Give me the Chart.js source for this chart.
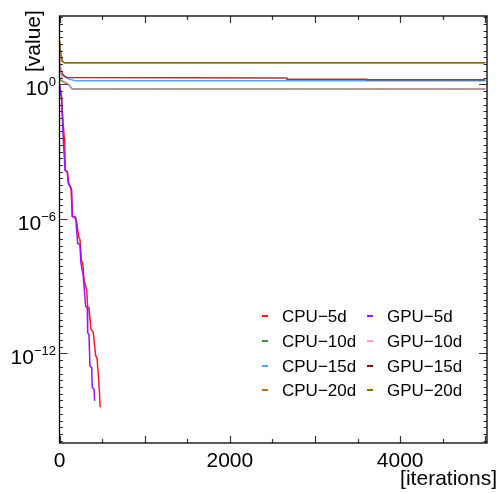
<!DOCTYPE html>
<html>
<head>
<meta charset="utf-8">
<script src="https://cdn.jsdelivr.net/npm/chart.js@4/dist/chart.umd.min.js"></script>
<style>
html,body{margin:0;padding:0;background:#fff;}
#wrap{width:500px;height:493px;position:relative;}
</style>
</head>
<body>
<div id="wrap"><canvas id="c" width="500" height="493"></canvas></div>
<script>
// ---- data (iterations, value) ----
const seriesNames = ["CPU\u22125d","CPU\u221210d","CPU\u221215d","CPU\u221220d","GPU\u22125d","GPU\u221210d","GPU\u221215d","GPU\u221220d"];

const iterCPU5 = [0, 26, 35, 56, 62, 68, 94, 106, 135, 152, 182, 201, 225, 240, 258, 272, 291, 319, 331, 346, 370, 396, 425, 440, 463, 471, 478];
const valCPU5  = [1.0, 2.5e-1, 5e-2, 4e-3, 2e-3, 1.5e-4, 1.2e-4, 4e-5, 2.4e-5, 1.3e-6, 1.1e-6, 7.4e-7, 1.6e-7, 1.2e-7, 1.3e-8, 1.1e-8, 1.6e-9, 6.9e-10, 1.1e-10, 1.1e-10, 1.2e-11, 8.9e-12, 7.6e-13, 6.5e-13, 5e-14, 1.3e-14, 3.9e-15];

const iterCPU10 = [0, 30, 65, 103, 150, 5000];
const valCPU10  = [1.6, 1.4, 1.2, 1.0, 0.62, 0.62];

const iterCPU15 = [0, 20, 100, 170, 200, 5000];
const valCPU15  = [3.4, 3.0, 1.8, 1.5, 1.46, 1.46];

const iterCPU20 = [0, 6, 18, 33, 57, 5000];
const valCPU20  = [90, 45, 20, 11, 9.2, 9.2];

const iterGPU5 = [0, 26, 33, 45, 65, 91, 103, 123, 143, 150, 190, 213, 240, 252, 279, 307, 326, 331, 346, 358, 378, 385, 405, 413];
const valGPU5  = [1.0, 1.9e-1, 3.5e-2, 3.2e-3, 1.5e-4, 1.26e-4, 3.9e-5, 2.75e-5, 1.95e-5, 1.26e-6, 1.2e-6, 8.3e-8, 6.9e-8, 1.07e-8, 2.75e-9, 1.26e-10, 1.07e-10, 8.3e-12, 6.9e-12, 2.75e-13, 2.3e-13, 3e-14, 2.5e-14, 7.6e-15];

const iterGPU10 = [0, 12, 18, 30, 65, 103, 143, 5000];
const valGPU10  = [26, 8.6, 3.5, 1.5, 1.26, 1.07, 0.64, 0.62];

const iterGPU15 = [0, 10, 45, 85, 2669, 2670, 3607, 3608, 5000];
const valGPU15  = [7.0, 5.1, 2.5, 2.0, 1.9, 1.7, 1.7, 1.6, 1.6];

const iterGPU20 = [0, 6, 18, 33, 57, 5000];
const valGPU20  = [90, 45, 20, 11, 9.2, 9.2];

// axis ticks
const xTickLabels = [0, 2000, 4000];
const xTickMarks = [0, 500, 1000, 1500, 2000, 2500, 3000, 3500, 4000, 4500, 5000];
const yMajorTicks = [1e0, 1e-6, 1e-12];
const yMajorExp = ["0", "\u22126", "\u221212"];

const seriesColors = ["#ff1a1a", "#2e962e", "#4aa6ff", "#cc6a10", "#9a10ff", "#ff99cc", "#8b0a0a", "#7d7500"];
const lineColors   = ["#ff1a1a", "#2e962e", "#4aa6ff", "#cc6a10", "#9a10ff", "rgba(235,140,180,0.85)", "rgba(150,20,20,0.85)", "rgba(115,110,0,0.9)"];

const iters = [iterCPU5, iterCPU10, iterCPU15, iterCPU20, iterGPU5, iterGPU10, iterGPU15, iterGPU20];
const vals  = [valCPU5, valCPU10, valCPU15, valCPU20, valGPU5, valGPU10, valGPU15, valGPU20];

const datasets = seriesNames.map((name, i) => ({
  label: name,
  data: iters[i].map((it, k) => ({x: it, y: vals[i][k]})),
  borderColor: lineColors[i],
  backgroundColor: seriesColors[i],
  borderWidth: 1.5,
  pointRadius: 0,
  tension: 0,
  fill: false,
  order: i < 4 ? 2 : 1
}));

const FONT = "'Liberation Sans', Arial, sans-serif";

const framePlugin = {
  id: 'framePlugin',
  afterDraw(chart) {
    const ctx = chart.ctx;
    const {left, right, top, bottom} = chart.chartArea;
    const xs = chart.scales.x, ys = chart.scales.y;
    ctx.save();
    // ticks
    ctx.strokeStyle = '#333';
    ctx.lineWidth = 1.2;
    ctx.beginPath();
    xTickMarks.forEach(t => {
      const px = Math.round(xs.getPixelForValue(t)) + 0.5;
      const len = (t % 1000 === 0) ? 7 : 4;
      ctx.moveTo(px, bottom); ctx.lineTo(px, bottom - len);
      ctx.moveTo(px, top); ctx.lineTo(px, top + len);
    });
    // minor y ticks every 0.3 decade
    for (let e = 3; e >= -16; e -= 0.3) {
      const v = Math.pow(10, e);
      const py = Math.round(ys.getPixelForValue(v)) + 0.5;
      if (py < top || py > bottom) continue;
      ctx.moveTo(left, py); ctx.lineTo(left + 3.5, py);
      ctx.moveTo(right, py); ctx.lineTo(right - 3.5, py);
    }
    yMajorTicks.forEach(v => {
      const py = Math.round(ys.getPixelForValue(v)) + 0.5;
      ctx.moveTo(left, py); ctx.lineTo(left + 8, py);
      ctx.moveTo(right, py); ctx.lineTo(right - 8, py);
    });
    ctx.stroke();
    // frame
    ctx.strokeStyle = '#000';
    ctx.lineWidth = 1.3;
    ctx.strokeRect(left, top, right - left, bottom - top);
    // y tick labels
    ctx.fillStyle = '#000';
    yMajorTicks.forEach((v, i) => {
      const py = ys.getPixelForValue(v);
      ctx.font = '13px ' + FONT;
      const ew = ctx.measureText(yMajorExp[i]).width;
      ctx.textAlign = 'right';
      ctx.textBaseline = 'alphabetic';
      ctx.fillText(yMajorExp[i], 56, py + 2);
      ctx.font = '21px ' + FONT;
      ctx.fillText('10', 56 - ew, py + 11);
    });
    // axis titles
    ctx.font = '21px ' + FONT;
    ctx.textAlign = 'right';
    ctx.textBaseline = 'alphabetic';
    ctx.fillText('[iterations]', 497, 485);
    ctx.save();
    ctx.translate(40, 72);
    ctx.rotate(-Math.PI / 2);
    ctx.textAlign = 'left';
    ctx.fillText('[value]', 0, 0);
    ctx.restore();
    // legend
    const colX = [262, 367];
    const textX = [282, 387];
    const rowY = [316, 341, 366, 390];
    ctx.font = '17px ' + FONT;
    ctx.textAlign = 'left';
    ctx.textBaseline = 'middle';
    chart.data.datasets.forEach((ds, i) => {
      const c = i < 4 ? 0 : 1, r = i % 4;
      ctx.strokeStyle = seriesColors[i];
      ctx.lineWidth = 2;
      ctx.beginPath();
      ctx.moveTo(colX[c], rowY[r]); ctx.lineTo(colX[c] + 6, rowY[r]);
      ctx.stroke();
      ctx.fillStyle = '#000';
      ctx.fillText(ds.label, textX[c], rowY[r] + 1);
    });
    ctx.restore();
  }
};

new Chart(document.getElementById('c'), {
  type: 'line',
  data: {datasets},
  plugins: [framePlugin],
  options: {
    responsive: false,
    animation: false,
    layout: {padding: {left: 0, top: 16, right: 13, bottom: 0}},
    plugins: {legend: {display: false}, tooltip: {enabled: false}},
    scales: {
      x: {
        type: 'linear', min: 0, max: 5020,
        grid: {display: false, drawTicks: false},
        border: {display: false},
        afterBuildTicks: s => { s.ticks = xTickLabels.map(v => ({value: v})); },
        afterFit: s => { s.height = 50; },
        ticks: {color: '#000', font: {size: 21, family: FONT}, padding: 6, maxRotation: 0, autoSkip: false,
                callback: v => String(v)}
      },
      y: {
        type: 'logarithmic', min: 1e-16, max: 1120,
        grid: {display: false, drawTicks: false},
        border: {display: false},
        ticks: {display: false},
        afterFit: s => { s.width = 59.5; }
      }
    }
  }
});
</script>
</body>
</html>
